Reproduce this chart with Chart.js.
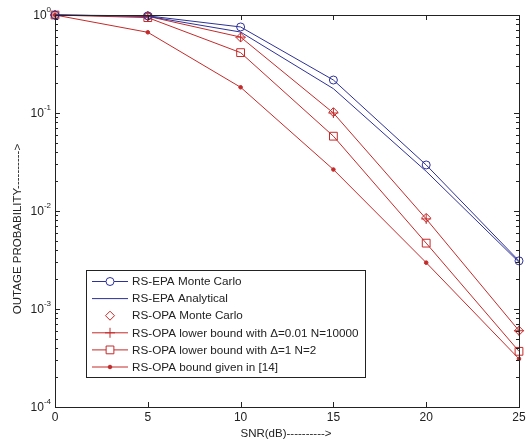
<!DOCTYPE html>
<html>
<head>
    <title>Outage probability vs SNR</title>
    <script src="https://cdn.jsdelivr.net/npm/chart.js"></script>
    <style>
        html, body {
            margin: 0;
            padding: 0;
            background: #ffffff;
        }

        #wrap {
            position: relative;
            width: 529px;
            height: 445px;
        }
    </style>
</head>
<body>
<div id="wrap"><canvas id="chart" width="529" height="445"></canvas></div>

<script>
    // values
    var snr = [0, 5, 10, 15, 20, 25];
    var epaMonteCarlo = [1, 0.98, 0.755, 0.217, 0.0295, 0.0031];
    var epaAnalytical = [1, 0.97, 0.67, 0.177, 0.0254, 0.0030];
    var opaMonteCarlo = [1, 0.97, 0.59, 0.102, 0.0085, 0.0006];
    var opaBound001 = [1, 0.97, 0.595, 0.100, 0.0083, 0.0006];
    var opaBound1 = [1, 0.94, 0.413, 0.058, 0.0047, 0.00037];
    var opaBoundRef = [1, 0.666, 0.183, 0.0265, 0.00297, 0.00031];
    var yTickExponents = [0, -1, -2, -3, -4];
    var xTicks = [0, 5, 10, 15, 20, 25];

    var legendLabels = [
        'RS-EPA Monte Carlo',
        'RS-EPA Analytical',
        'RS-OPA Monte Carlo',
        'RS-OPA lower bound with \u0394=0.01 N=10000',
        'RS-OPA lower bound with \u0394=1 N=2',
        'RS-OPA bound given in [14]'
    ];

    var BLUE = '#2e3196';
    var RED = '#c42a2a';
    var FONT = '"Liberation Sans", Arial, sans-serif';
    var TEXT = '#222222';

    function pts(arr) {
        return snr.map(function (x, i) { return { x: x, y: arr[i] }; });
    }

    var datasets = [
        { data: pts(epaMonteCarlo), borderColor: BLUE, pointStyle: 'circle', pointRadius: 4, showLine: true },
        { data: pts(epaAnalytical), borderColor: BLUE, pointStyle: false, pointRadius: 0, showLine: true },
        { data: pts(opaMonteCarlo), borderColor: RED, pointStyle: 'rectRot', pointRadius: 4.5, showLine: false },
        { data: pts(opaBound001), borderColor: RED, pointStyle: 'cross', pointRadius: 5, showLine: true },
        { data: pts(opaBound1), borderColor: RED, pointStyle: 'rect', pointRadius: 5.5, showLine: true },
        { data: pts(opaBoundRef), borderColor: RED, pointStyle: 'circle', pointRadius: 1.8, showLine: true, filled: true }
    ];
    datasets.forEach(function (d, i) {
        d.label = legendLabels[i];
        d.borderWidth = 1;
        d.pointBorderColor = d.borderColor;
        d.pointBackgroundColor = d.filled ? d.borderColor : 'rgba(0,0,0,0)';
        d.pointBorderWidth = 1;
        d.pointHoverRadius = d.pointRadius;
        d.tension = 0;
        d.fill = false;
        d.clip = false;
    });

    // Box, inner ticks, tick labels, axis titles and legend
    var decorPlugin = {
        id: 'decor',
        afterDraw: function (chart) {
            var ctx = chart.ctx;
            var a = chart.chartArea;
            var xs = chart.scales.x;
            var ys = chart.scales.y;
            ctx.save();
            ctx.strokeStyle = TEXT;
            ctx.lineWidth = 1;
            ctx.strokeRect(Math.round(a.left) + 0.5, Math.round(a.top) + 0.5,
                Math.round(a.right - a.left), Math.round(a.bottom - a.top));

            // x ticks inside, top and bottom
            ctx.beginPath();
            xTicks.forEach(function (v) {
                var px = Math.round(xs.getPixelForValue(v)) + 0.5;
                ctx.moveTo(px, a.bottom); ctx.lineTo(px, a.bottom - 5);
                ctx.moveTo(px, a.top); ctx.lineTo(px, a.top + 5);
            });
            // y ticks (major + minor), left and right
            yTickExponents.forEach(function (e) {
                for (var m = 1; m <= 9; m++) {
                    var v = m * Math.pow(10, e);
                    if (v > 1.0001) continue;
                    var py = Math.round(ys.getPixelForValue(v)) + 0.5;
                    var len = m === 1 ? 5 : 3;
                    ctx.moveTo(a.left, py); ctx.lineTo(a.left + len, py);
                    ctx.moveTo(a.right, py); ctx.lineTo(a.right - len, py);
                }
            });
            ctx.stroke();

            // x tick labels
            ctx.fillStyle = TEXT;
            ctx.font = '12px ' + FONT;
            ctx.textAlign = 'center';
            ctx.textBaseline = 'middle';
            xTicks.forEach(function (v) {
                ctx.fillText(String(v), xs.getPixelForValue(v), a.bottom + 11);
            });

            // y tick labels as 10 with a raised exponent
            yTickExponents.forEach(function (e) {
                var py = ys.getPixelForValue(Math.pow(10, e));
                var exp = e === 0 ? '0' : '-' + Math.abs(e);
                ctx.font = '8px ' + FONT;
                ctx.textAlign = 'right';
                var w = ctx.measureText(exp).width;
                ctx.fillText(exp, 51, py - 5);
                ctx.font = '12px ' + FONT;
                ctx.fillText('10', 51 - w, py + 1);
            });

            // axis titles
            ctx.font = '11.5px ' + FONT;
            ctx.textAlign = 'center';
            ctx.fillText('SNR(dB)---------->', 286, 434);
            ctx.save();
            ctx.translate(18, 229);
            ctx.rotate(-Math.PI / 2);
            ctx.fillText('OUTAGE PROBABILITY---------->', 0, 0);
            ctx.restore();

            // legend
            var lx = 86.5, ly = 270.5, lw = 279, lh = 107;
            ctx.fillStyle = '#ffffff';
            ctx.fillRect(lx, ly, lw, lh);
            ctx.strokeStyle = TEXT;
            ctx.strokeRect(lx, ly, lw, lh);
            chart.data.datasets.forEach(function (d, i) {
                var ry = 281.5 + i * 17.1;
                ctx.strokeStyle = d.borderColor;
                ctx.lineWidth = 1;
                if (d.showLine) {
                    ctx.beginPath();
                    ctx.moveTo(92, ry); ctx.lineTo(128, ry);
                    ctx.stroke();
                }
                if (d.pointStyle) {
                    ctx.fillStyle = d.filled ? d.borderColor : '#ffffff';
                    ctx.strokeStyle = d.pointBorderColor;
                    Chart.helpers.drawPoint(ctx, {
                        pointStyle: d.pointStyle,
                        radius: d.pointRadius,
                        rotation: 0,
                        borderWidth: 1
                    }, 110, ry);
                }
                ctx.fillStyle = TEXT;
                ctx.font = '11.7px ' + FONT;
                ctx.textAlign = 'left';
                ctx.textBaseline = 'middle';
                ctx.fillText(d.label, 132, ry + 0.5);
            });
            ctx.restore();
        }
    };

    var ctx = document.getElementById('chart').getContext('2d');
    var chart = new Chart(ctx, {
        type: 'line',
        data: { datasets: datasets },
        options: {
            responsive: false,
            animation: false,
            events: [],
            layout: { padding: { top: 15, right: 10, left: 0, bottom: 0 } },
            plugins: {
                legend: { display: false },
                tooltip: { enabled: false }
            },
            scales: {
                x: {
                    type: 'linear',
                    min: 0,
                    max: 25,
                    grid: { display: false },
                    border: { display: false },
                    ticks: { display: false, stepSize: 5 },
                    afterFit: function (s) { s.height = 38; }
                },
                y: {
                    type: 'logarithmic',
                    min: 1e-4,
                    max: 1,
                    grid: { display: false },
                    border: { display: false },
                    ticks: { display: false },
                    afterFit: function (s) { s.width = 55; }
                }
            }
        },
        plugins: [decorPlugin]
    });
</script>
</body>
</html>
